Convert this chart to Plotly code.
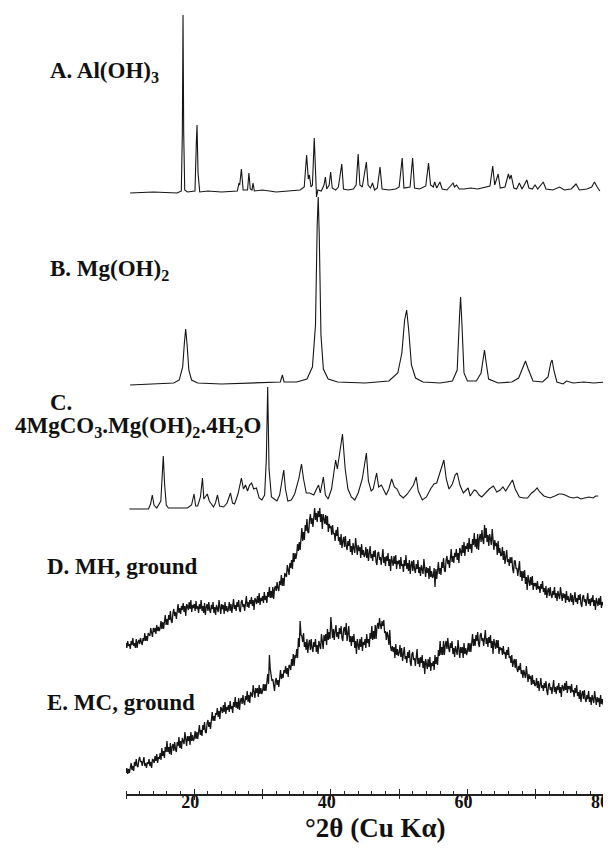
import numpy as np
import plotly.graph_objects as go

# ---------------- data ----------------
# A. Al(OH)3  (2theta, relative intensity)
A_2theta = [10.6, 14, 17.5, 18.1, 18.25, 18.35, 18.45, 18.6, 19, 20.1, 20.3, 20.4, 20.55, 20.8, 22, 24,
            26.3, 26.55, 26.65, 26.9, 27.15, 27.8, 28.0, 28.2, 28.45, 28.6, 28.8, 30, 32, 34, 35.5, 36.1,
            36.45, 36.7, 36.85, 37.1, 37.3, 37.57, 37.8, 37.9, 38.1, 38.6, 39.0, 39.2, 39.4, 39.75, 39.97,
            40.2, 40.7, 41.1, 41.6, 41.85, 42.5, 43.3, 43.7, 44.0, 44.25, 44.6, 45.2, 45.45, 45.8, 46.1,
            46.4, 46.8, 47.2, 47.5, 48.5, 49.5, 50.0, 50.45, 50.7, 51.6, 51.97, 52.25, 53.0, 53.9, 54.3,
            54.6, 55.0, 55.2, 55.5, 55.97, 56.3, 57.0, 57.9, 58.1, 58.4, 58.8, 59.5, 60.5, 61.5, 62.5,
            63.3, 63.7, 64.0, 64.5, 64.8, 65.5, 66.0, 66.2, 66.4, 66.8, 67.2, 67.6, 68.0, 68.7, 69.0,
            69.5, 69.9, 70.3, 71.1, 71.5, 72.5, 73.5, 74.2, 75.2, 75.9, 76.4, 77.5, 78.2, 78.6, 79.0, 79.4]
A_int = [0, 1, 0, 2, 60, 178, 60, 3, 1, 2, 50, 68, 20, 1, 2, 1,
         2, 10, 8, 24, 3, 3, 20, 4, 3, 10, 2, 3, 1, 2, 3, 6,
         38, 14, 18, 6, 8, 55, 4, -4, 3, 2, 8, 16, 4, 8, 21,
         5, 3, 6, 29, 4, 3, 4, 8, 39, 8, 6, 31, 8, 5, 10,
         3, 5, 26, 4, 3, 4, 6, 35, 5, 6, 35, 5, 4, 7, 30,
         8, 6, 11, 5, 11, 4, 3, 10, 6, 8, 4, 4, 5, 4, 6,
         7, 27, 8, 19, 5, 6, 19, 14, 18, 5, 4, 10, 4, 13, 5,
         4, 8, 4, 11, 4, 3, 6, 3, 4, 9, 3, 4, 6, 11, 6, 2]

# B. Mg(OH)2
B_2theta = [10.6, 14, 17.0, 17.8, 18.3, 18.55, 18.74, 18.95, 19.2, 19.6, 20.5, 24, 28, 31, 32.6, 32.9,
            33.15, 35, 36.5, 37.3, 37.75, 38.0, 38.15, 38.3, 38.55, 38.9, 39.6, 41, 45, 48.5, 49.8,
            50.4, 50.8, 51.1, 51.4, 51.8, 52.4, 53.5, 56, 57.8, 58.5, 58.85, 59.0, 59.2, 59.5, 60.0,
            61.3, 62.0, 62.3, 62.5, 62.75, 63.1, 64.5, 66.5, 67.5, 68.1, 68.5, 68.9, 69.6, 71.0, 71.8,
            72.2, 72.4, 72.65, 73.1, 74.0, 74.5, 75.5, 77, 78.5, 80.2]
B_int = [0, 1, 2, 5, 18, 42, 56, 40, 15, 5, 2, 1, 2, 2, 3, 10,
         3, 3, 6, 18, 60, 160, 188, 150, 50, 16, 6, 3, 2, 4, 12,
         32, 65, 75, 55, 20, 7, 3, 2, 4, 15, 70, 88, 60, 12, 4,
         4, 12, 28, 35, 22, 6, 2, 3, 7, 18, 24, 16, 4, 3, 8,
         22, 25, 15, 3, 1, 4, 2, 3, 2, 3]

# C. 4MgCO3.Mg(OH)2.4H2O
C_2theta = [10.5, 13.3, 13.6, 13.85, 14.1, 14.5, 15.1, 15.3, 15.46, 15.65, 15.9, 16.2, 17, 19.0, 19.6,
            19.96, 20.2, 20.5, 20.9, 21.2, 21.4, 21.65, 21.9, 22.2, 22.8, 23.1, 23.4, 23.7, 24.3, 24.8,
            25.3, 25.6, 25.9, 26.4, 26.9, 27.2, 27.5, 27.8, 28.1, 28.4, 28.7, 29.1, 29.5, 29.9, 30.3,
            30.55, 30.75, 30.95, 31.3, 31.7, 32.1, 32.5, 32.85, 33.1, 33.35, 33.7, 34.2, 34.7, 35.3,
            35.7, 36.0, 36.4, 36.9, 37.5, 37.9, 38.2, 38.45, 38.9, 39.2, 39.6, 40.1, 40.7, 40.95, 41.25,
            41.7, 42.1, 42.5, 43.0, 43.5, 44.0, 44.6, 45.2, 45.5, 45.9, 46.2, 46.7, 47.0, 47.4, 47.7,
            48.1, 48.5, 48.9, 49.3, 49.7, 50.1, 50.6, 51.2, 51.7, 52.1, 52.5, 52.8, 53.4, 54.0, 54.6,
            55.1, 55.5, 55.8, 56.2, 56.55, 56.9, 57.3, 57.8, 58.2, 58.5, 58.9, 59.4, 59.8, 60.1, 60.4,
            60.7, 61.0, 61.3, 61.7, 62.1, 62.6, 63.2, 63.8, 64.3, 64.8, 65.2, 65.6, 66.0, 66.6, 67.0,
            67.6, 68.2, 68.8, 69.4, 69.8, 70.2, 70.6, 71.2, 72.1, 72.8, 73.4, 73.8, 74.3, 74.9, 75.5,
            76.1, 76.6, 77.2, 77.8, 78.4, 78.8, 79.15]
C_int = [0, 0, 5, 14, 4, 1, 8, 35, 53, 25, 4, 1, 1, 1, 4,
         15, 3, 3, 12, 31, 10, 13, 15, 8, 2, 6, 14, 3, 2, 6,
         16, 6, 5, 15, 31, 20, 24, 18, 24, 26, 20, 21, 11, 9, 14,
         50, 122, 40, 12, 10, 8, 14, 30, 39, 20, 8, 9, 15, 30,
         45, 30, 16, 16, 14, 20, 24, 16, 32, 14, 10, 20, 49, 40, 55,
         75, 40, 20, 12, 9, 16, 30, 56, 28, 18, 20, 36, 22, 24, 19,
         14, 20, 30, 22, 20, 14, 11, 15, 20, 24, 32, 18, 9, 12, 20,
         25, 26, 33, 42, 49, 30, 20, 25, 34, 36, 24, 16, 19, 21, 13,
         16, 19, 18, 14, 12, 16, 20, 23, 17, 19, 22, 18, 22, 29, 20,
         12, 11, 11, 16, 18, 21, 17, 13, 11, 13, 15, 15, 14, 12, 11,
         12, 10, 11, 12, 11, 13, 13]

# D. MH, ground  (scan from 10 to 80 deg, 0.125 deg step; one row = 5 deg)
D_int = [2, -3, 4, -1, 1, -4, 4, 0, 7, -1, 2, -3, 6, -3, 3, 5, 1, 7, 3, 0, 7, 4, 12, 4, 9, 4, 12, 10, 9, 17, 11, 8, 17, 13, 17, 11, 20, 14, 18, 14,
         17, 24, 16, 23, 16, 24, 30, 20, 26, 20, 30, 25, 34, 24, 22, 32, 36, 29, 33, 26, 37, 41, 32, 37, 31, 39, 35, 42, 33, 39, 29, 41, 39, 35, 43, 36, 45, 33, 40, 37,
         41, 34, 44, 36, 39, 32, 41, 36, 45, 34, 39, 32, 42, 30, 38, 41, 34, 43, 35, 32, 40, 36, 43, 32, 38, 30, 40, 37, 33, 45, 34, 31, 41, 36, 40, 31, 43, 34, 39, 33,
         36, 43, 34, 41, 32, 40, 46, 36, 40, 34, 43, 38, 45, 35, 33, 43, 45, 38, 41, 34, 45, 49, 38, 43, 37, 45, 41, 48, 39, 45, 35, 47, 45, 41, 49, 42, 52, 40, 47, 44,
         49, 42, 53, 45, 49, 42, 53, 48, 58, 47, 54, 47, 58, 46, 56, 59, 54, 63, 57, 54, 64, 60, 70, 59, 67, 59, 72, 69, 68, 80, 73, 70, 82, 77, 85, 76, 92, 83, 92, 86,
         91, 101, 94, 103, 95, 106, 117, 104, 113, 105, 120, 114, 126, 113, 112, 125, 131, 121, 127, 118, 132, 137, 125, 132, 123, 134, 128, 137, 123, 131, 116, 131, 126, 121, 130, 120, 129, 113, 121, 117,
         119, 110, 120, 111, 112, 104, 115, 109, 118, 104, 108, 100, 111, 97, 104, 108, 98, 109, 99, 95, 104, 99, 106, 93, 99, 90, 102, 98, 92, 107, 94, 90, 100, 94, 98, 87, 101, 90, 95, 88,
         90, 98, 87, 96, 84, 93, 99, 87, 91, 84, 94, 88, 95, 83, 80, 92, 93, 85, 88, 80, 91, 96, 82, 88, 79, 89, 84, 92, 79, 86, 74, 89, 84, 79, 89, 81, 90, 76, 84, 81,
         85, 76, 88, 79, 81, 73, 85, 79, 90, 76, 82, 74, 85, 71, 80, 84, 74, 85, 76, 72, 81, 76, 85, 72, 78, 69, 80, 76, 71, 86, 72, 68, 78, 72, 77, 66, 79, 68, 74, 67,
         69, 77, 58, 76, 66, 75, 83, 71, 77, 70, 83, 77, 87, 75, 73, 85, 89, 81, 85, 77, 91, 96, 83, 89, 82, 92, 88, 96, 85, 92, 82, 97, 94, 89, 100, 92, 103, 89, 99, 96,
         102, 93, 107, 96, 101, 92, 106, 100, 112, 98, 106, 96, 111, 95, 107, 111, 103, 115, 105, 101, 120, 107, 117, 103, 110, 99, 111, 107, 100, 116, 99, 95, 105, 99, 102, 90, 104, 92, 97, 89,
         90, 98, 85, 94, 81, 90, 95, 83, 86, 79, 88, 82, 88, 76, 72, 84, 84, 76, 77, 69, 79, 84, 68, 74, 64, 74, 67, 75, 61, 68, 55, 70, 64, 59, 68, 60, 69, 55, 62, 59,
         62, 55, 64, 56, 59, 52, 61, 56, 64, 53, 57, 50, 59, 47, 54, 57, 49, 58, 50, 47, 54, 50, 58, 47, 52, 44, 54, 51, 46, 58, 47, 44, 52, 47, 51, 42, 54, 45, 49, 43,
         45, 52, 43, 50, 40, 48, 53, 43, 47, 41, 50, 45, 51, 41, 38, 48, 50, 43, 46, 39, 48, 52, 41, 46, 39, 47, 43, 50, 39, 45, 35, 47, 43, 39, 47, 40, 49, 37, 43, 40,
         41]

# E. MC, ground  (scan from 10 to 80 deg, 0.125 deg step; one row = 5 deg)
E_int = [0, 5, -1, 4, 0, 5, 10, 3, 7, 2, 11, 7, 14, 7, 6, 13, 16, 11, 12, 7, 13, 16, 7, 10, 5, 11, 9, 14, 7, 11, 5, 14, 13, 10, 17, 12, 19, 10, 16, 14,
         20, 13, 25, 17, 22, 15, 26, 21, 32, 21, 26, 19, 30, 18, 26, 29, 22, 31, 24, 21, 31, 27, 36, 25, 32, 24, 35, 32, 29, 41, 30, 27, 37, 32, 37, 28, 41, 32, 38, 32,
         35, 42, 34, 41, 34, 42, 48, 38, 43, 37, 48, 43, 51, 41, 40, 50, 53, 46, 51, 44, 57, 61, 52, 57, 52, 60, 58, 65, 56, 62, 54, 66, 64, 60, 68, 61, 71, 59, 66, 63,
         68, 61, 72, 64, 67, 60, 71, 66, 76, 65, 71, 64, 75, 63, 72, 75, 69, 78, 71, 68, 77, 73, 82, 71, 78, 70, 81, 78, 76, 88, 78, 75, 85, 80, 85, 76, 88, 79, 85, 79,
         82, 89, 82, 89, 82, 90, 99, 89, 118, 104, 97, 92, 94, 84, 82, 92, 95, 88, 93, 86, 99, 103, 94, 99, 95, 103, 100, 107, 99, 105, 96, 108, 107, 103, 114, 107, 119, 107, 118, 115,
         124, 115, 135, 126, 152, 138, 137, 131, 140, 126, 131, 123, 134, 120, 129, 133, 123, 134, 125, 121, 131, 126, 134, 121, 128, 119, 132, 128, 124, 139, 128, 124, 138, 132, 139, 128, 144, 133, 141, 134,
         156, 146, 135, 144, 133, 142, 148, 136, 141, 134, 145, 139, 147, 135, 132, 144, 146, 138, 150, 132, 142, 147, 131, 137, 127, 137, 131, 139, 125, 132, 119, 134, 128, 123, 134, 126, 136, 122, 131, 128,
         134, 125, 139, 130, 134, 126, 140, 134, 147, 133, 142, 134, 148, 134, 146, 150, 144, 155, 148, 144, 152, 147, 153, 140, 142, 133, 141, 137, 128, 143, 126, 122, 127, 121, 126, 115, 129, 118, 124, 117,
         120, 128, 116, 125, 112, 121, 126, 114, 117, 110, 121, 115, 123, 111, 107, 119, 121, 113, 115, 107, 119, 124, 109, 115, 106, 116, 110, 118, 105, 112, 99, 114, 109, 104, 114, 106, 116, 102, 110, 107,
         112, 103, 118, 109, 116, 108, 123, 117, 132, 118, 126, 118, 132, 118, 128, 132, 124, 135, 125, 121, 130, 125, 132, 119, 125, 116, 127, 123, 118, 133, 119, 115, 126, 120, 126, 115, 130, 119, 125, 118,
         122, 130, 121, 130, 121, 130, 139, 127, 134, 127, 138, 132, 141, 129, 126, 138, 140, 132, 135, 127, 138, 143, 129, 135, 126, 136, 130, 138, 125, 132, 119, 134, 129, 124, 133, 125, 133, 119, 126, 123,
         125, 118, 127, 119, 121, 114, 123, 118, 126, 115, 117, 110, 118, 106, 111, 114, 105, 114, 104, 101, 107, 103, 110, 99, 103, 95, 103, 100, 95, 107, 94, 91, 99, 94, 97, 88, 98, 89, 93, 87,
         88, 95, 85, 92, 82, 90, 95, 85, 88, 82, 90, 85, 92, 82, 78, 88, 90, 83, 86, 79, 89, 93, 81, 86, 79, 87, 83, 90, 80, 86, 76, 88, 86, 82, 90, 83, 92, 80, 87, 84,
         87, 80, 89, 81, 83, 76, 85, 80, 88, 77, 81, 74, 83, 71, 79, 82, 74, 83, 74, 71, 78, 74, 82, 71, 76, 68, 78, 75, 70, 82, 71, 68, 76, 71, 75, 66, 78, 69, 74, 68,
         72]

SCAN_START, SCAN_STEP = 10.0, 0.125

labels = ["<b>A. Al(OH)<sub>3</sub></b>",
          "<b>B. Mg(OH)<sub>2</sub></b>",
          "<b>C.</b>",
          "<b>4MgCO<sub>3</sub>.Mg(OH)<sub>2</sub>.4H<sub>2</sub>O</b>",
          "<b>D. MH, ground</b>",
          "<b>E. MC, ground</b>"]
label_ticks = [20, 40, 60, 80]
major_ticks = [10, 20, 30, 40, 50, 60, 70, 80]
x_title = "°2θ (Cu Kα)"

# ---------------- layout constants ----------------
# the page body has an 8 px default margin, so the figure starts at page (8, 8)
PAGE_OFF = 8
W, H = 611 - PAGE_OFF, 858 - 2 * PAGE_OFF
AXIS_PAGE_Y = 794
ML, MR, MT = 126 - PAGE_OFF, 7, 0
PH = AXIS_PAGE_Y - PAGE_OFF
MB = H - PH
PW = W - ML - MR
offsets = {"A": 601, "B": 409, "C": 285, "D": 149, "E": 21}
LINE = "#151515"
AXC = "#222"
SERIF = "Liberation Serif, Times New Roman, serif"


def px2paper(px, py):
    """page pixel -> paper coordinates"""
    return (px - PAGE_OFF - ML) / PW, (AXIS_PAGE_Y - py) / PH


fig = go.Figure()
series = [("A", A_2theta, A_int), ("B", B_2theta, B_int), ("C", C_2theta, C_int),
          ("D", SCAN_START + SCAN_STEP * np.arange(len(D_int)), D_int),
          ("E", SCAN_START + SCAN_STEP * np.arange(len(E_int)), E_int)]
for key, xs, ys in series:
    fig.add_trace(go.Scatter(x=list(xs), y=[v + offsets[key] for v in ys], mode="lines",
                             line=dict(color=LINE, width=1.1 if key in "ABC" else 1.3),
                             hoverinfo="skip", showlegend=False))

# invisible traces on overlay axes (extra tick marks)
for ax in ["x2", "x3"]:
    fig.add_trace(go.Scatter(x=[10, 80], y=[0, 0], xaxis=ax, mode="markers",
                             marker=dict(opacity=0), showlegend=False, hoverinfo="skip"))

fig.update_layout(
    template="none",
    width=W, height=H, margin=dict(l=ML, r=MR, t=MT, b=MB, autoexpand=False),
    paper_bgcolor="white", plot_bgcolor="white",
    xaxis=dict(range=[10, 80], showgrid=False, zeroline=False, showline=True, automargin=False,
               linecolor=AXC, linewidth=1.5, ticks="outside", ticklen=4, tickwidth=1.2,
               tickcolor=AXC, tickmode="array", tickvals=label_ticks,
               ticktext=[f"<b>{t}</b>" for t in label_ticks], ticklabeloverflow="allow",
               ticklabelstandoff=-13, ticklabelshift=-4,
               tickfont=dict(family=SERIF, size=18, color="#111"),
               minor=dict(ticks="inside", tick0=10, dtick=2, ticklen=3, tickwidth=1, tickcolor=AXC,
                          showgrid=False),
               fixedrange=True),
    xaxis2=dict(range=[10, 80], overlaying="x", anchor="y", showgrid=False, zeroline=False,
                showline=False, ticks="inside", ticklen=5, tickwidth=1.2, tickcolor=AXC,
                tickmode="array", tickvals=major_ticks, showticklabels=False, side="bottom",
                automargin=False),
    xaxis3=dict(range=[10, 80], overlaying="x", anchor="y", showgrid=False, zeroline=False,
                showline=False, ticks="outside", ticklen=4, tickwidth=1.2, tickcolor=AXC,
                tickmode="array", tickvals=major_ticks, showticklabels=False, side="bottom",
                automargin=False),
    yaxis=dict(range=[0, PH], visible=False, showgrid=False, zeroline=False, fixedrange=True,
               automargin=False),
)

label_pos = [(48, 72), (48, 270), (48, 402), (13, 427), (45, 566), (45, 702)]
for text, (px, py) in zip(labels, label_pos):
    xp, yp = px2paper(px, py)
    fig.add_annotation(x=xp, y=yp, xref="paper", yref="paper", text=text, showarrow=False,
                       xanchor="left", yanchor="middle",
                       font=dict(family=SERIF, size=23, color="#111"))

xp, yp = px2paper(375, 828)
fig.add_annotation(x=xp, y=yp, xref="paper", yref="paper", text=f"<b>{x_title}</b>",
                   showarrow=False, xanchor="center", yanchor="middle",
                   font=dict(family=SERIF, size=27, color="#111"))

fig.write_html("out.html")
